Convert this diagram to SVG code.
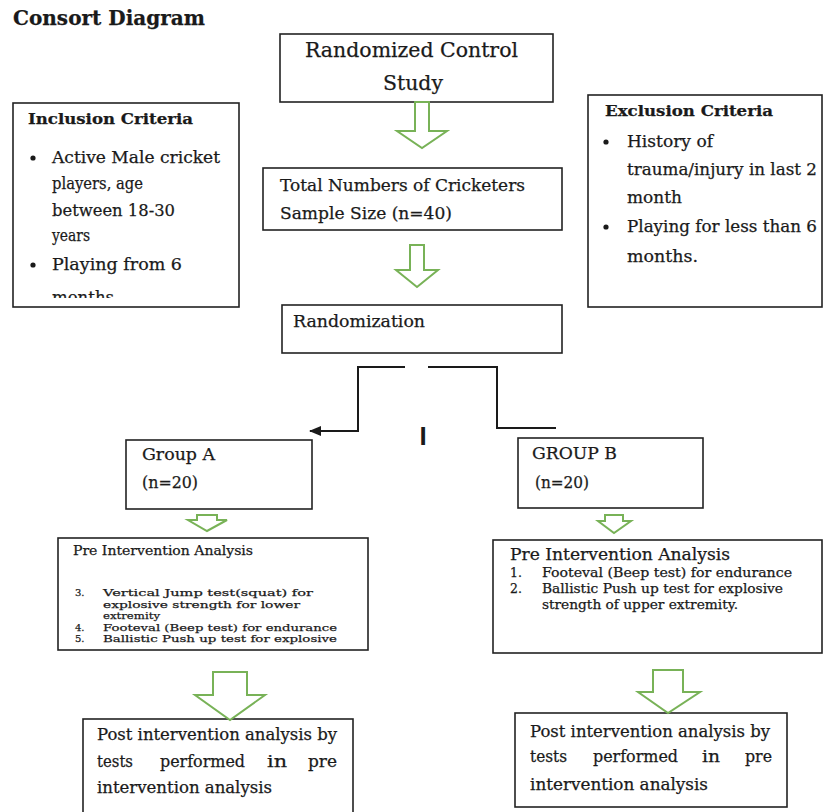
<svg xmlns="http://www.w3.org/2000/svg" width="824" height="812" viewBox="0 0 824 812">
<style>
text{font-family:"DejaVu Serif","Liberation Serif",serif;fill:#1a1a1a;stroke:#1a1a1a;stroke-width:0.25;}
.b{font-weight:bold;}
.box{fill:#fff;stroke:#222;stroke-width:1.6;}
.garrow{fill:#fff;stroke:#78b257;stroke-width:2;stroke-linejoin:miter;}
.conn{fill:none;stroke:#1a1a1a;stroke-width:2;}
.t19{font-size:20px;}
.t16{font-size:17px;}
.t15{font-size:16px;}
.t12{font-size:12.5px;}
.t11{font-size:10px;}
</style>
<defs>
<marker id="ah" markerWidth="12" markerHeight="10" refX="11" refY="5" orient="auto" markerUnits="userSpaceOnUse">
<path d="M0,0 L12,5 L0,10 Z" fill="#1a1a1a"/>
</marker>
<clipPath id="incClip"><rect x="13" y="100" width="227" height="198"/></clipPath>
</defs>
<rect x="0" y="0" width="824" height="812" fill="#fff"/>

<text id="title" class="b" x="13" y="25" font-size="21" textLength="192" lengthAdjust="spacingAndGlyphs">Consort Diagram</text>

<g id="rct">
<rect class="box" x="280" y="34" width="273" height="68"/>
<text class="t19" x="305" y="57" textLength="213" lengthAdjust="spacingAndGlyphs">Randomized Control</text>
<text class="t19" x="383" y="90" textLength="60" lengthAdjust="spacingAndGlyphs">Study</text>
</g>

<g id="inclusion">
<rect class="box" x="13" y="103" width="226" height="204"/>
<text class="b" font-size="15.5" x="28" y="124" textLength="165" lengthAdjust="spacingAndGlyphs">Inclusion Criteria</text>
<circle cx="33" cy="158" r="2.6" fill="#1a1a1a"/>
<text class="t16" x="52" y="163" textLength="168" lengthAdjust="spacingAndGlyphs">Active Male cricket</text>
<text class="t16" x="52" y="189" textLength="91" lengthAdjust="spacingAndGlyphs">players, age</text>
<text class="t16" x="52" y="216" textLength="123" lengthAdjust="spacingAndGlyphs">between 18-30</text>
<text class="t16" x="52" y="241" textLength="38" lengthAdjust="spacingAndGlyphs">years</text>
<circle cx="33" cy="265" r="2.6" fill="#1a1a1a"/>
<text class="t16" x="52" y="270" textLength="130" lengthAdjust="spacingAndGlyphs">Playing from 6</text>
<text class="t16" x="52" y="303" clip-path="url(#incClip)" textLength="62" lengthAdjust="spacingAndGlyphs">months</text>
</g>

<g id="exclusion">
<rect class="box" x="588" y="95" width="234" height="212"/>
<text class="b" font-size="15.5" x="605" y="116" textLength="168" lengthAdjust="spacingAndGlyphs">Exclusion Criteria</text>
<circle cx="606" cy="142" r="2.6" fill="#1a1a1a"/>
<text class="t16" x="627" y="147" textLength="86" lengthAdjust="spacingAndGlyphs">History of</text>
<text class="t16" x="627" y="175" textLength="190" lengthAdjust="spacingAndGlyphs">trauma/injury in last 2</text>
<text class="t16" x="627" y="203" textLength="55" lengthAdjust="spacingAndGlyphs">month</text>
<circle cx="606" cy="227" r="2.6" fill="#1a1a1a"/>
<text class="t16" x="627" y="232" textLength="190" lengthAdjust="spacingAndGlyphs">Playing for less than 6</text>
<text class="t16" x="627" y="262" textLength="71" lengthAdjust="spacingAndGlyphs">months.</text>
</g>

<g id="total">
<rect class="box" x="263" y="168" width="299" height="62"/>
<text class="t16" x="280" y="191" textLength="245" lengthAdjust="spacingAndGlyphs">Total Numbers of Cricketers</text>
<text class="t16" x="280" y="219" textLength="172" lengthAdjust="spacingAndGlyphs">Sample Size (n=40)</text>
</g>

<g id="randomization">
<rect class="box" x="282" y="305" width="280" height="48"/>
<text class="t16" x="293" y="327" textLength="132" lengthAdjust="spacingAndGlyphs">Randomization</text>
</g>

<g id="groupA">
<rect class="box" x="126" y="440" width="186" height="69"/>
<text class="t15" x="142" y="460" textLength="73" lengthAdjust="spacingAndGlyphs">Group A</text>
<text class="t15" x="142" y="488" textLength="56" lengthAdjust="spacingAndGlyphs">(n=20)</text>
</g>

<g id="groupB">
<rect class="box" x="518" y="438" width="185" height="70"/>
<text class="t15" x="532" y="459" textLength="85" lengthAdjust="spacingAndGlyphs">GROUP B</text>
<text class="t15" x="535" y="488" textLength="54" lengthAdjust="spacingAndGlyphs">(n=20)</text>
</g>

<g id="preA">
<rect class="box" x="58" y="538" width="310" height="112"/>
<text class="t12" x="73" y="555" textLength="180" lengthAdjust="spacingAndGlyphs">Pre Intervention Analysis</text>
<text class="t11" x="75" y="596">3.</text>
<text class="t11" x="103" y="596" textLength="210" lengthAdjust="spacingAndGlyphs">Vertical Jump test(squat) for</text>
<text class="t11" x="103" y="608" textLength="197" lengthAdjust="spacingAndGlyphs">explosive strength for lower</text>
<text class="t11" x="103" y="619" textLength="57" lengthAdjust="spacingAndGlyphs">extremity</text>
<text class="t11" x="75" y="631">4.</text>
<text class="t11" x="103" y="631" textLength="234" lengthAdjust="spacingAndGlyphs">Footeval (Beep test) for endurance</text>
<text class="t11" x="75" y="642">5.</text>
<text class="t11" x="103" y="642" textLength="234" lengthAdjust="spacingAndGlyphs">Ballistic Push up test for explosive</text>
</g>

<g id="preB">
<rect class="box" x="493" y="540" width="329" height="113"/>
<text class="t15" x="510" y="560" textLength="220" lengthAdjust="spacingAndGlyphs">Pre Intervention Analysis</text>
<text class="t12" x="510" y="577">1.</text>
<text class="t12" x="542" y="577" textLength="250" lengthAdjust="spacingAndGlyphs">Footeval (Beep test)  for endurance</text>
<text class="t12" x="510" y="593">2.</text>
<text class="t12" x="542" y="593" textLength="241" lengthAdjust="spacingAndGlyphs">Ballistic Push up test for explosive</text>
<text class="t12" x="542" y="609" textLength="196" lengthAdjust="spacingAndGlyphs">strength of upper extremity.</text>
</g>

<g id="postA">
<rect class="box" x="83" y="719" width="270" height="100"/>
<text class="t15" x="97" y="740" textLength="240" lengthAdjust="spacingAndGlyphs">Post intervention analysis by</text>
<text class="t15" x="97" y="767" textLength="36" lengthAdjust="spacingAndGlyphs">tests</text>
<text class="t15" x="160" y="767" textLength="85" lengthAdjust="spacingAndGlyphs">performed</text>
<text class="t15" x="267" y="767" textLength="20" lengthAdjust="spacingAndGlyphs">in</text>
<text class="t15" x="308" y="767" textLength="29" lengthAdjust="spacingAndGlyphs">pre</text>
<text class="t15" x="97" y="793" textLength="175" lengthAdjust="spacingAndGlyphs">intervention analysis</text>
</g>

<g id="postB">
<rect class="box" x="515" y="713" width="272" height="94"/>
<text class="t15" x="530" y="737" textLength="240" lengthAdjust="spacingAndGlyphs">Post intervention analysis by</text>
<text class="t15" x="530" y="762" textLength="37" lengthAdjust="spacingAndGlyphs">tests</text>
<text class="t15" x="593" y="762" textLength="85" lengthAdjust="spacingAndGlyphs">performed</text>
<text class="t15" x="702" y="762" textLength="18" lengthAdjust="spacingAndGlyphs">in</text>
<text class="t15" x="745" y="762" textLength="27" lengthAdjust="spacingAndGlyphs">pre</text>
<text class="t15" x="530" y="790" textLength="178" lengthAdjust="spacingAndGlyphs">intervention analysis</text>
</g>

<g id="connectors">
<path class="garrow" d="M415,102 L429,102 L429,131 L447,131 L422,148 L397,131 L415,131 Z"/>
<path class="garrow" d="M410,245 L424,245 L424,270 L438,270 L417,287 L396,270 L410,270 Z"/>
<path class="conn" d="M405,367 L358,367 L358,431 L310,431" marker-end="url(#ah)"/>
<path class="conn" d="M428,367 L497,367 L497,428 L556,428"/>
<path class="garrow" d="M197,515 L217,515 L217,520 L227,520 L207,531 L188,520 L197,520 Z"/>
<path class="garrow" d="M605,515 L623,515 L623,521 L631,521 L614,533 L598,521 L605,521 Z"/>
<path class="garrow" d="M213,672 L247,672 L247,695 L265,695 L230,720 L195,695 L213,695 Z"/>
<path class="garrow" d="M653,670 L683,670 L683,692 L700,692 L668,713 L638,692 L653,692 Z"/>
</g>

<text id="mark" x="423" y="445" text-anchor="middle" font-weight="bold" font-size="26" style="font-family:'Liberation Sans',sans-serif;stroke:none">I</text>
</svg>
